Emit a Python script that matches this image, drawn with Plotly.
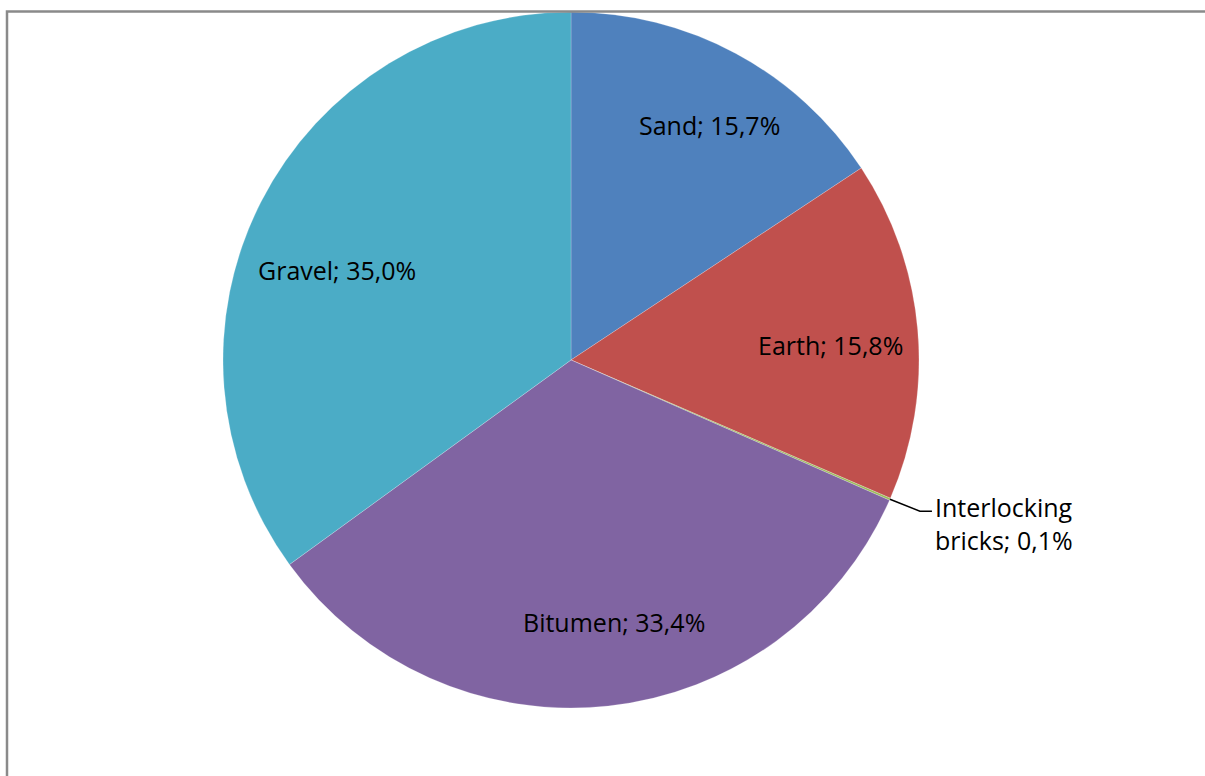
import math
import plotly.graph_objects as go

# Share of road surface material (%)
categories = ["Sand", "Earth", "Interlocking bricks", "Bitumen", "Gravel"]
shares = [15.7, 15.8, 0.1, 33.4, 35.0]
label_texts = ["Sand; 15,7%", "Earth; 15,8%", "Interlocking<br>bricks; 0,1%",
               "Bitumen; 33,4%", "Gravel; 35,0%"]
colors = ["#4F81BD", "#C0504D", "#9BBB59", "#8064A2", "#4BACC6"]

# Canvas and pie geometry in pixels
W, H = 1205, 776
CX, CY, R = 571, 360, 348

# Label placement: radial fraction and angular nudge (degrees) per slice
label_radius = [0.784, 0.747, None, 0.763, 0.721]
label_nudge = [2.3, 1.7, 0.0, -3.2, -6.0]

FONT = "Open Sans"
FSIZE = 25


def px(x):
    return x / W


def py(y):
    return 1 - y / H


fig = go.Figure(go.Pie(
    labels=categories,
    values=shares,
    sort=False,
    direction="clockwise",
    rotation=0,
    marker=dict(colors=colors, line=dict(color="rgba(255,255,255,0.35)", width=0.6)),
    textinfo="none",
    hoverinfo="label+percent",
    showlegend=False,
    domain=dict(x=[px(CX - R), px(CX + R)], y=[py(CY + R), py(CY - R)]),
))

total = sum(shares)
annotations = []
shapes = []
cum = 0.0
for i, v in enumerate(shares):
    mid = (cum + v / 2) / total * 360.0
    cum += v
    if label_radius[i] is not None:
        a = math.radians(mid + label_nudge[i])
        rr = R * label_radius[i]
        lx = CX + rr * math.sin(a)
        ly = CY - rr * math.cos(a)
        annotations.append(dict(
            x=px(lx), y=py(ly), xref="paper", yref="paper",
            text=label_texts[i], showarrow=False,
            xanchor="center", yanchor="middle",
            font=dict(family=FONT, size=FSIZE, color="#000000"),
        ))
    else:
        # tiny slice: leader line from the rim to an outside label
        a = math.radians(mid)
        sx = CX + R * math.sin(a)
        sy = CY - R * math.cos(a)
        ex, ey = sx + 30, sy + 12
        hx = ex + 12
        shapes.append(dict(
            type="path", xref="paper", yref="paper",
            path=f"M {px(sx)},{py(sy)} L {px(ex)},{py(ey)} L {px(hx)},{py(ey)}",
            line=dict(color="#000000", width=1.5),
        ))
        annotations.append(dict(
            x=px(hx + 1), y=py(ey + 12), xref="paper", yref="paper",
            text=label_texts[i], showarrow=False, align="left",
            xanchor="left", yanchor="middle",
            font=dict(family=FONT, size=FSIZE, color="#000000"),
        ))

# Chart area frame
shapes.append(dict(
    type="rect", xref="paper", yref="paper",
    x0=px(7), x1=1.02, y0=-0.02, y1=py(11.5),
    line=dict(color="#8A8A8A", width=2.5), layer="above",
))

fig.update_layout(
    width=W, height=H,
    margin=dict(l=0, r=0, t=0, b=0),
    paper_bgcolor="#FFFFFF",
    plot_bgcolor="#FFFFFF",
    annotations=annotations,
    shapes=shapes,
)

fig.write_html("out.html")
